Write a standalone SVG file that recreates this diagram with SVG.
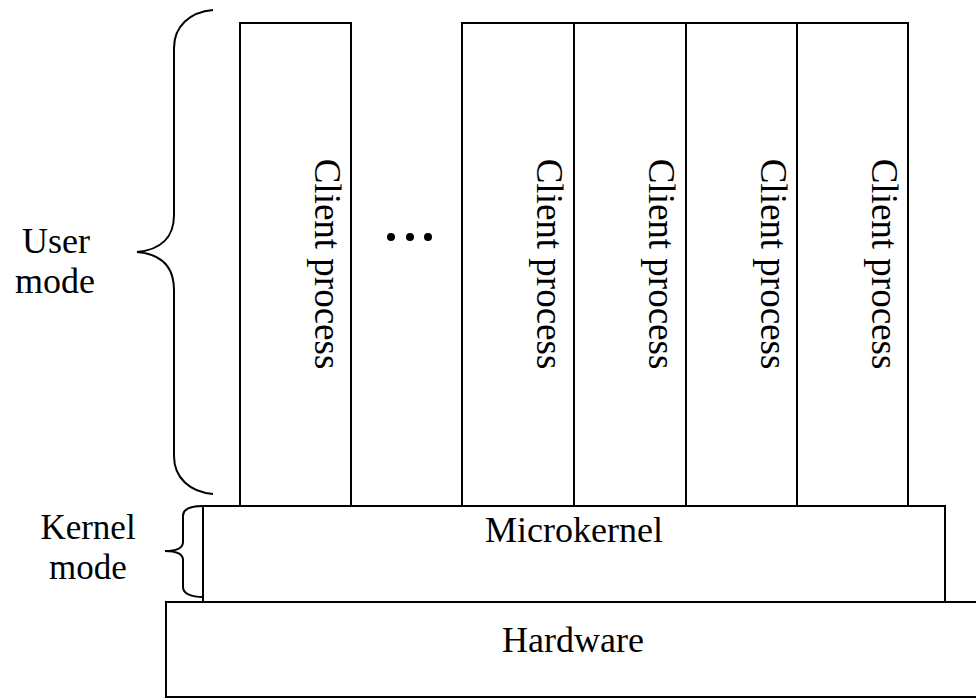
<svg xmlns="http://www.w3.org/2000/svg" width="976" height="698" viewBox="0 0 976 698">
<style>
.box{fill:#fff;stroke:#000;stroke-width:2}
.br{fill:none;stroke:#000;stroke-width:2}
text{font-family:"Liberation Serif","Times New Roman",serif;font-size:36px;fill:#000}
.cp{font-size:37px;text-anchor:middle}
.c{text-anchor:middle}
.k{font-size:35px}
</style>
<rect width="976" height="698" fill="#fff"/>
<g id="hardware">
<rect class="box" x="166" y="602" width="830" height="95"/>
<text class="c" x="573" y="652">Hardware</text>
</g>
<g id="microkernel">
<rect class="box" x="203" y="506" width="742" height="96"/>
<text class="c" x="574" y="542">Microkernel</text>
</g>
<g id="client1">
<rect class="box" x="240" y="23" width="111" height="483"/>
<text class="cp" transform="translate(315,264) rotate(90)">Client process</text>
</g>
<g id="ellipsis">
<circle cx="391" cy="237" r="4"/>
<circle cx="410" cy="237" r="4"/>
<circle cx="428" cy="237" r="4"/>
</g>
<g id="client2">
<rect class="box" x="462" y="23" width="112" height="483"/>
<text class="cp" transform="translate(537,264) rotate(90)">Client process</text>
</g>
<g id="client3">
<rect class="box" x="574" y="23" width="112" height="483"/>
<text class="cp" transform="translate(649,264) rotate(90)">Client process</text>
</g>
<g id="client4">
<rect class="box" x="686" y="23" width="111" height="483"/>
<text class="cp" transform="translate(761,264) rotate(90)">Client process</text>
</g>
<g id="client5">
<rect class="box" x="797" y="23" width="111" height="483"/>
<text class="cp" transform="translate(872,264) rotate(90)">Client process</text>
</g>
<g id="user-mode">
<path class="br" d="M213,10 C190,12 174,26 174,48 L174,215 C174,238 160,250 137,252 C160,254 174,266 174,290 L174,456 C174,478 190,492 213,494"/>
<text class="c" x="56" y="253">User</text>
<text class="c" x="55" y="293">mode</text>
</g>
<g id="kernel-mode">
<path class="br" d="M203,506 C192,506 183,508 183,516 L183,542 C183,548 176,551 165,551 C176,551 183,554 183,560 L183,587 C183,594 192,597 203,597"/>
<text class="c k" x="88" y="539">Kernel</text>
<text class="c k" x="88" y="579">mode</text>
</g>
<g id="connectors"></g>
</svg>
